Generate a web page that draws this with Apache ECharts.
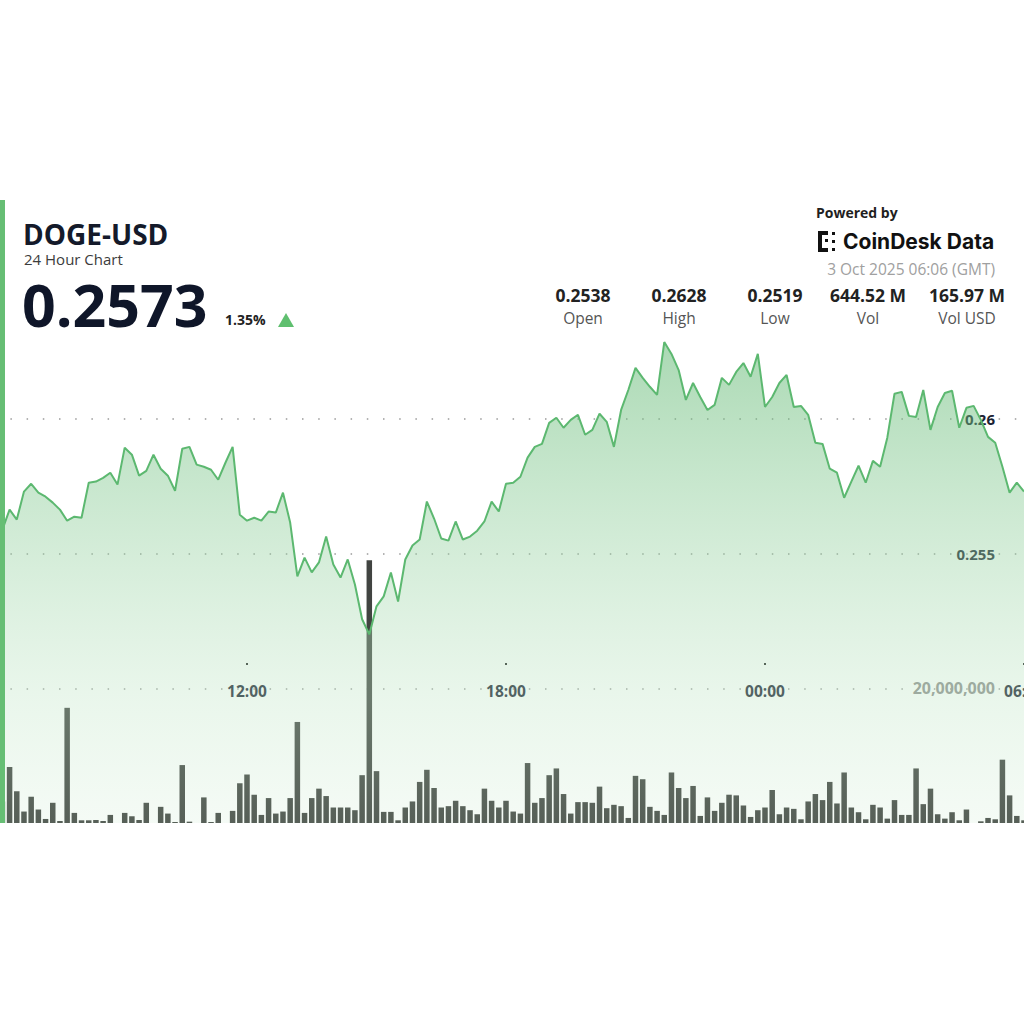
<!DOCTYPE html>
<html>
<head>
<meta charset="utf-8">
<script src="https://cdn.jsdelivr.net/npm/echarts@6/dist/echarts.min.js"></script>
<style>
html,body{margin:0;padding:0;background:#fff;overflow:hidden;}
#chart{width:1024px;height:1024px;}
</style>
</head>
<body>
<div id="chart"></div>
<script>
// 10-minute time slots (2 Oct 06:10 -> 3 Oct 06:00 GMT)
const times = [
'06:10','06:20','06:30','06:40','06:50',
'07:00','07:10','07:20','07:30','07:40','07:50',
'08:00','08:10','08:20','08:30','08:40','08:50',
'09:00','09:10','09:20','09:30','09:40','09:50',
'10:00','10:10','10:20','10:30','10:40','10:50',
'11:00','11:10','11:20','11:30','11:40','11:50',
'12:00','12:10','12:20','12:30','12:40','12:50',
'13:00','13:10','13:20','13:30','13:40','13:50',
'14:00','14:10','14:20','14:30','14:40','14:50',
'15:00','15:10','15:20','15:30','15:40','15:50',
'16:00','16:10','16:20','16:30','16:40','16:50',
'17:00','17:10','17:20','17:30','17:40','17:50',
'18:00','18:10','18:20','18:30','18:40','18:50',
'19:00','19:10','19:20','19:30','19:40','19:50',
'20:00','20:10','20:20','20:30','20:40','20:50',
'21:00','21:10','21:20','21:30','21:40','21:50',
'22:00','22:10','22:20','22:30','22:40','22:50',
'23:00','23:10','23:20','23:30','23:40','23:50',
'00:00','00:10','00:20','00:30','00:40','00:50',
'01:00','01:10','01:20','01:30','01:40','01:50',
'02:00','02:10','02:20','02:30','02:40','02:50',
'03:00','03:10','03:20','03:30','03:40','03:50',
'04:00','04:10','04:20','04:30','04:40','04:50',
'05:00','05:10','05:20','05:30','05:40','05:50',
'06:00'
];

// DOGE-USD price per slot
const prices = [
0.25533,0.25589,0.25663,0.25626,0.25730,
0.25759,0.25726,0.25711,0.25689,0.25663,0.25622,
0.25637,0.25633,0.25763,0.25767,0.25781,0.25800,
0.25756,0.25893,0.25867,0.25789,0.25807,0.25867,
0.25815,0.25789,0.25733,0.25889,0.25896,0.25830,
0.25822,0.25811,0.25774,0.25837,0.25896,0.25644,
0.25622,0.25633,0.25622,0.25656,0.25652,0.25726,
0.25615,0.25415,0.25485,0.25430,0.25467,0.25563,
0.25459,0.25411,0.25478,0.25385,0.25256,0.25200,
0.25304,0.25341,0.25430,0.25322,0.25478,0.25530,
0.25552,0.25693,0.25630,0.25556,0.25548,0.25619,
0.25552,0.25563,0.25585,0.25619,0.25693,0.25656,
0.25759,0.25763,0.25785,0.25856,0.25896,0.25907,
0.25985,0.26004,0.25967,0.25996,0.26015,0.25941,
0.25959,0.26019,0.25989,0.25896,0.26033,0.26107,
0.26189,0.26152,0.26119,0.26089,0.26285,0.26241,
0.26181,0.26070,0.26133,0.26081,0.26033,0.26052,
0.26152,0.26126,0.26174,0.26207,0.26156,0.26241,
0.26044,0.26081,0.26133,0.26163,0.26044,0.26048,
0.26015,0.25911,0.25907,0.25815,0.25800,0.25707,
0.25767,0.25826,0.25763,0.25844,0.25822,0.25930,
0.26093,0.26100,0.26011,0.26007,0.26107,0.25959,
0.26044,0.26096,0.26104,0.25967,0.26041,0.26048,
0.25996,0.25933,0.25911,0.25822,0.25726,0.25763,
0.25730
];

// Volume per slot, in millions of DOGE
const volumesM = [
2.5,3.2,8.3,4.7,1.7,
3.9,2.0,0.6,3.0,0.3,17.1,
1.5,0.4,0.4,0.45,0.3,1.2,
0,1.5,1.0,0.45,3.0,0,
2.4,1.4,0.15,8.6,0.2,0,
3.8,0.15,1.5,0,1.8,5.9,
7.2,4.2,1.2,3.7,1.4,1.7,
3.7,15.0,1.5,3.7,5.1,4.0,
2.3,2.3,2.3,1.9,7.1,39.0,
7.7,1.65,1.65,0.4,2.3,3.2,
6.1,7.9,5.2,2.3,2.5,3.3,
2.5,1.9,1.3,5.1,3.3,2.3,
3.3,1.7,1.4,8.9,3.0,3.7,
7.1,8.1,4.3,1.4,3.1,3.1,
3.0,5.4,2.2,2.7,2.5,0.75,
7.0,6.5,2.4,1.8,1.2,7.5,
5.2,3.7,5.5,1.05,3.8,1.8,
3.0,4.2,4.1,2.6,0.9,1.9,
2.3,4.9,1.3,2.3,2.1,0.55,
3.2,4.3,3.4,6.1,2.9,7.5,
2.3,1.6,0.55,2.7,2.3,0.65,
3.4,1.2,1.2,8.1,2.8,5.1,
1.3,0.65,1.6,0.4,2.0,0,
0.25,0.75,0.55,9.4,4.1,1.05,
0.4
];

const timeTicks = ['12:00','18:00','00:00','06:00'];
const priceTicks = [0.255, 0.26];
const volumeTicks = [20];

const statValues = ['0.2538','0.2628','0.2519','644.52 M','165.97 M'];
const statLabels = ['Open','High','Low','Vol','Vol USD'];

const FONT = '"Open Sans", "Noto Sans", sans-serif';
const chart = echarts.init(document.getElementById('chart'), null, {renderer: 'svg'});

const statX = [583, 679, 775, 868, 967];
const graphics = [
  {type:'rect', shape:{x:0,y:200,width:5,height:623}, style:{fill:'#66be74'}, z:100},
  {type:'text', x:23, y:234, style:{text:'DOGE-USD', font:'bold 28px '+FONT, fill:'#141a2a', textVerticalAlign:'middle'}, z:100},
  {type:'text', x:24, y:259, style:{text:'24 Hour Chart', font:'15px '+FONT, fill:'#3c3c3c', textVerticalAlign:'middle'}, z:100},
  {type:'text', x:22, y:304, style:{text:'0.2573', font:'bold 59px '+FONT, fill:'#0f1629', textVerticalAlign:'middle'}, z:100},
  {type:'text', x:225, y:319, style:{text:'1.35%', font:'bold 14px '+FONT, fill:'#222', textVerticalAlign:'middle'}, z:100},
  {type:'polygon', shape:{points:[[278,327],[294,327],[286,313]]}, style:{fill:'#5fbf6f'}, z:100},
  {type:'text', x:816, y:212, style:{text:'Powered by', font:'bold 14px '+FONT, fill:'#1f1f1f', textVerticalAlign:'middle'}, z:100},
  {type:'rect', shape:{x:818,y:231,width:4,height:21}, style:{fill:'#111'}, z:100},
  {type:'rect', shape:{x:818,y:231,width:10,height:4}, style:{fill:'#111'}, z:100},
  {type:'rect', shape:{x:818,y:248,width:10,height:4}, style:{fill:'#111'}, z:100},
  {type:'rect', shape:{x:825,y:239,width:3,height:3}, style:{fill:'#111'}, z:100},
  {type:'rect', shape:{x:832,y:232,width:3,height:3}, style:{fill:'#111'}, z:100},
  {type:'rect', shape:{x:832,y:240,width:3,height:3}, style:{fill:'#111'}, z:100},
  {type:'rect', shape:{x:832,y:248,width:3,height:3}, style:{fill:'#111'}, z:100},
  {type:'text', x:843, y:241, style:{text:'CoinDesk Data', font:'bold 21px Inter, '+FONT, fill:'#111', textVerticalAlign:'middle'}, z:100},
  {type:'text', x:995, y:269, style:{text:'3 Oct 2025 06:06 (GMT)', font:'15.5px '+FONT, fill:'#a0a0a0', textAlign:'right', textVerticalAlign:'middle'}, z:100}
];
statValues.forEach((v,i)=>{
  graphics.push({type:'text', x:statX[i], y:295, style:{text:v, font:'bold 17.5px '+FONT, fill:'#222', textAlign:'center', textVerticalAlign:'middle'}, z:100});
  graphics.push({type:'text', x:statX[i], y:318, style:{text:statLabels[i], font:'15.5px '+FONT, fill:'#555', textAlign:'center', textVerticalAlign:'middle'}, z:100});
});

const near = (a, list) => list.some(t => Math.abs(a - t) < 1e-9);

chart.setOption({
  animation: false,
  backgroundColor: '#ffffff',
  graphic: graphics,
  grid: {left: -4.8, right: 0, top: 338, bottom: 201, containLabel: false, outerBoundsMode: 'none'},
  xAxis: {
    type: 'category',
    data: times,
    boundaryGap: false,
    position: 'bottom',
    offset: -160,
    axisLine: {show: false},
    axisTick: {show: true, length: 2, lineStyle: {color: '#222', width: 2},
      interval: (i, v) => timeTicks.includes(v)},
    axisLabel: {show: true, margin: 20, fontFamily: FONT, fontWeight: 'bold', fontSize: 15.5, color: '#1b2233',
      interval: (i, v) => timeTicks.includes(v)},
    splitLine: {show: false}
  },
  yAxis: [
    {
      type: 'value', position: 'right', min: 0.245, max: 0.263, interval: 0.005,
      axisLine: {show: false}, axisTick: {show: false},
      axisLabel: {inside: true, margin: 29, fontFamily: FONT, fontWeight: 'bold', fontSize: 15, color: '#1b2233',
        formatter: v => near(v, priceTicks) ? String(+v.toFixed(4)) : ''},
      splitLine: {show: true, showMinLine: false, showMaxLine: false,
        lineStyle: {color: '#9a9a9a', width: 1.5, type: [1.5, 14.7], dashOffset: 0.7}}
    },
    {
      type: 'value', position: 'right', min: 0, max: 72, interval: 20,
      axisLine: {show: false}, axisTick: {show: false},
      axisLabel: {inside: true, margin: 29, fontFamily: FONT, fontWeight: 'bold', fontSize: 16, color: '#8e8e8e',
        formatter: v => near(v, volumeTicks) ? (v * 1e6).toLocaleString('en-US') : ''},
      splitLine: {show: false}
    }
  ],
  series: [
    {
      type: 'bar', xAxisIndex: 0, yAxisIndex: 1, data: volumesM, barWidth: 5.5,
      itemStyle: {color: '#414441'}, z: 1, silent: true
    },
    {
      type: 'line', xAxisIndex: 0, yAxisIndex: 0, data: prices, showSymbol: false, z: 3,
      lineStyle: {color: '#5cb870', width: 2},
      areaStyle: {
        color: new echarts.graphic.LinearGradient(0, 0, 0, 1, [
          {offset: 0, color: 'rgba(92,182,110,0.74)'},
          {offset: 0.74, color: 'rgba(190,229,196,0.47)'},
          {offset: 1, color: 'rgba(193,230,198,0.24)'}
        ])
      },
      silent: true
    }
  ]
});
</script>
</body>
</html>
